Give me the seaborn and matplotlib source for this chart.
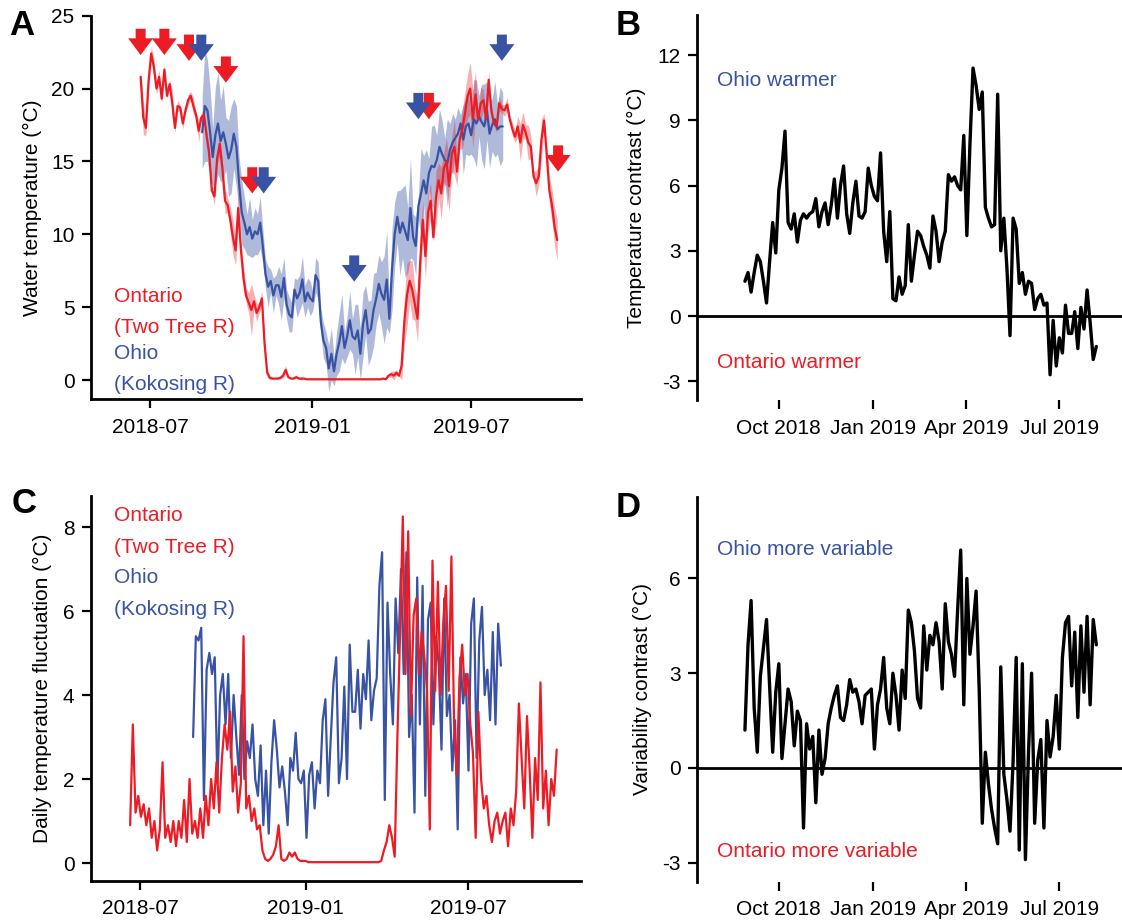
import numpy as np
import pandas as pd
import matplotlib
matplotlib.use("Agg")
import matplotlib.pyplot as plt
import matplotlib.dates as mdates
import seaborn as sns

# ---- data (one value every 3 days) ----
# Ontario (Two Tree R), starts 2018-06-20
ont_start = "2018-06-20"
ont_temp = np.array([
    20.8, 18.0, 17.3, 20.5, 22.4, 21.5, 20.0, 20.8, 19.3, 21.3,
    19.5, 20.3, 19.0, 17.3, 18.8, 18.7, 17.6, 18.5, 19.2, 19.5,
    18.8, 18.2, 17.1, 18.0, 18.2, 16.8, 15.5, 13.0, 12.6, 15.2,
    16.2, 14.5, 12.3, 12.0, 11.0, 9.8, 8.9, 11.8, 9.0, 7.0,
    5.8, 5.3, 4.8, 5.4, 4.6, 5.0, 5.6, 2.5, 0.5, 0.15,
    0.1, 0.1, 0.1, 0.15, 0.3, 0.7, 0.2, 0.1, 0.1, 0.2,
    0.1, 0.1, 0.1, 0.05, 0.05, 0.05, 0.05, 0.05, 0.05, 0.05,
    0.05, 0.05, 0.05, 0.05, 0.05, 0.05, 0.05, 0.05, 0.05, 0.05,
    0.05, 0.05, 0.05, 0.05, 0.05, 0.05, 0.05, 0.05, 0.05, 0.05,
    0.05, 0.05, 0.1, 0.05, 0.3, 0.4, 0.3, 0.5, 0.3, 1.0,
    4.0, 5.8, 6.8, 6.2, 5.2, 4.2, 8.0, 11.0, 8.5, 11.5,
    12.3, 9.8, 12.5, 13.7, 12.8, 14.5, 15.0, 13.3, 15.5, 16.0,
    14.3, 16.5, 17.2, 18.3, 19.5, 20.0, 17.9, 19.6, 17.9, 19.0,
    19.2, 17.9, 20.6, 18.5, 17.6, 17.4, 19.0, 18.6, 18.5, 18.9,
    17.9, 17.2, 16.7, 17.4, 16.3, 17.5, 17.0, 16.3, 16.0, 14.0,
    13.5, 14.0, 16.5, 17.8, 15.5, 13.0, 12.0, 10.5, 9.6])
ont_band = np.array([
    0.4, 1.2, 0.5, 0.6, 0.5, 0.6, 0.4, 0.5, 0.3, 0.4,
    0.2, 0.3, 0.9, 0.3, 0.4, 0.2, 0.4, 0.2, 0.4, 0.3,
    0.6, 0.2, 0.8, 0.3, 0.4, 0.3, 0.5, 0.3, 0.6, 0.4,
    0.8, 0.5, 0.9, 0.5, 0.9, 1.2, 1.0, 1.3, 0.6, 0.9,
    0.5, 0.7, 1.8, 0.5, 0.6, 0.4, 0.5, 0.3, 0.3, 0.1,
    0.05, 0.0, 0.05, 0.1, 0.15, 0.3, 0.05, 0.0, 0.05, 0.1,
    0.05, 0.1, 0.05, 0.0, 0.0, 0.0, 0.0, 0.0, 0.0, 0.0,
    0.0, 0.0, 0.0, 0.0, 0.0, 0.0, 0.0, 0.0, 0.0, 0.0,
    0.0, 0.0, 0.0, 0.0, 0.0, 0.0, 0.0, 0.0, 0.0, 0.0,
    0.0, 0.0, 0.0, 0.0, 0.1, 0.2, 0.3, 0.2, 0.05, 1.0,
    1.6, 2.2, 1.4, 2.0, 1.1, 1.6, 1.7, 1.3, 1.5, 1.4,
    1.2, 0.3, 1.9, 1.2, 1.8, 1.2, 1.6, 1.8, 1.2, 1.9,
    1.0, 0.7, 1.3, 1.5, 1.5, 1.8, 2.0, 1.6, 0.2, 1.1,
    0.7, 0.5, 0.6, 0.4, 0.2, 0.4, 0.5, 0.3, 0.4, 0.5,
    0.2, 0.5, 0.4, 0.7, 1.3, 0.9, 0.5, 1.2, 0.8, 0.3,
    0.9, 0.6, 1.4, 0.5, 0.8, 0.9, 1.1, 1.3, 1.4])
ont_fluct = np.array([
    0.9, 3.3, 1.2, 1.6, 1.1, 1.4, 0.9, 1.3, 0.6, 1.0,
    0.3, 0.8, 2.4, 0.6, 0.9, 0.5, 1.0, 0.4, 1.0, 0.6,
    1.5, 0.5, 2.0, 0.7, 1.0, 0.6, 1.3, 0.6, 1.6, 0.9,
    2.0, 1.3, 2.4, 1.2, 2.5, 3.3, 2.7, 3.6, 1.7, 2.3,
    1.2, 1.9, 5.4, 1.3, 1.6, 1.0, 1.3, 0.8, 0.9, 0.3,
    0.1, 0.05, 0.1, 0.2, 0.4, 0.9, 0.1, 0.05, 0.1, 0.25,
    0.15, 0.25, 0.1, 0.05, 0.05, 0.05, 0.02, 0.02, 0.02, 0.02,
    0.02, 0.02, 0.02, 0.02, 0.02, 0.02, 0.02, 0.02, 0.02, 0.02,
    0.02, 0.02, 0.02, 0.02, 0.02, 0.02, 0.02, 0.02, 0.02, 0.02,
    0.02, 0.02, 0.02, 0.05, 0.3, 0.5, 0.9, 0.6, 0.15, 3.0,
    5.5, 8.25, 4.5, 7.9, 3.5, 5.9, 6.3, 4.5, 5.5, 4.9,
    4.1, 0.8, 7.2, 4.1, 6.7, 4.0, 5.7, 6.6, 4.1, 7.3,
    3.3, 2.1, 4.4, 5.2, 4.0, 4.5, 3.3, 2.6, 0.6, 3.6,
    2.0, 1.3, 1.6, 0.9, 0.5, 1.0, 1.2, 0.7, 1.0, 1.2,
    0.4, 1.3, 0.9, 1.7, 3.8, 2.5, 1.3, 3.5, 2.2, 0.6,
    2.5, 1.5, 4.3, 1.3, 2.2, 0.9, 2.0, 1.6, 2.7])

# Ohio (Kokosing R), starts 2018-08-29
ohio_start = "2018-08-29"
ohio_temp = np.array([
    17.0, 18.8, 18.5, 17.0, 15.3, 16.8, 17.6, 16.4, 17.0, 16.2,
    15.2, 15.8, 16.9, 16.0, 13.5, 11.5, 10.8, 10.0, 10.5, 9.7,
    10.2, 10.0, 10.8, 9.2, 7.3, 6.4, 6.8, 5.8, 6.5, 6.5,
    5.7, 7.0, 5.2, 4.5, 4.3, 6.2, 5.6, 6.0, 6.9, 5.4,
    6.0, 5.6, 5.4, 7.2, 6.8, 4.0, 2.7, 2.2, 0.8, 1.8,
    0.6, 1.8, 2.6, 3.7, 2.2, 3.0, 4.1, 3.0, 2.8, 3.4,
    1.8, 3.8, 4.8, 3.2, 3.5, 4.8, 5.6, 6.6, 5.9, 5.5,
    6.9, 4.2, 7.6, 10.0, 11.2, 10.1, 10.8, 10.2, 9.6, 11.8,
    9.8, 9.2, 11.9, 12.8, 13.7, 12.8, 14.2, 14.7, 14.6, 15.1,
    16.0, 15.5, 15.1, 14.9, 15.8, 16.3, 16.6, 16.9, 17.6, 16.5,
    17.4, 17.6, 16.8, 17.9, 17.6, 18.1, 17.7, 17.4, 18.5, 16.9,
    17.5, 17.9, 17.2, 17.4, 17.4])
ohio_band = np.array([
    2.5, 3.8, 3.5, 3.0, 2.0, 3.3, 3.5, 2.8, 3.2, 1.8,
    2.6, 3.0, 2.4, 2.8, 1.8, 2.2, 1.8, 1.4, 2.0, 1.3,
    1.6, 1.4, 1.8, 1.2, 1.0, 1.4, 0.8, 1.2, 0.7, 1.3,
    1.6, 1.4, 1.0, 1.2, 1.0, 0.8, 1.3, 1.2, 1.6, 1.1,
    1.0, 1.2, 0.6, 1.2, 1.3, 0.9, 1.2, 1.1, 1.6, 1.8,
    1.0, 1.5, 2.0, 2.2, 1.1, 1.4, 2.0, 1.2, 2.4, 1.8,
    1.8, 2.2, 1.7, 2.2, 2.0, 2.5, 1.8, 2.0, 2.2, 3.0,
    3.3, 1.0, 2.8, 2.2, 1.8, 2.9, 2.4, 3.2, 2.2, 3.4,
    1.6, 2.0, 0.8, 3.1, 1.7, 3.0, 1.0, 2.7, 2.9, 1.7,
    2.6, 2.3, 1.5, 3.0, 1.8, 2.0, 1.3, 1.8, 0.6, 2.4,
    1.9, 2.2, 1.3, 2.7, 3.0, 1.4, 2.6, 2.9, 2.0, 2.3,
    1.8, 2.6, 1.7, 2.7, 2.3])
ohio_fluct = np.array([
    3.0, 5.4, 5.3, 5.6, 1.5, 4.6, 5.0, 4.5, 4.9, 1.9,
    4.0, 4.5, 3.3, 4.5, 2.5, 4.0, 3.0, 2.1, 4.0, 2.0,
    2.9, 2.5, 3.3, 2.0, 1.6, 2.8, 0.9, 2.2, 0.7, 2.4,
    3.4, 2.7, 1.8, 2.3, 1.7, 0.9, 2.5, 2.2, 3.1, 2.0,
    1.9, 2.2, 0.6, 2.1, 2.4, 1.3, 2.2, 1.9, 3.4, 3.9,
    1.6, 3.0, 4.3, 4.9, 1.9, 2.5, 4.2, 2.0, 5.2, 3.6,
    3.6, 4.6, 3.2, 4.5, 3.9, 5.3, 3.4, 4.1, 4.4, 6.6,
    7.4, 1.5, 6.2, 4.5, 3.3, 6.3, 5.0, 7.0, 4.5, 7.4,
    3.0, 4.0, 1.2, 6.8, 3.3, 6.6, 1.6, 5.8, 6.2, 3.3,
    5.4, 4.7, 2.7, 6.3, 3.5, 4.0, 2.2, 3.4, 0.8, 4.9,
    3.8, 4.5, 2.2, 5.7, 6.3, 2.5, 5.3, 6.1, 4.0, 4.6,
    3.4, 5.5, 3.3, 5.7, 4.7])

# contrasts (Ohio minus Ontario), same dates as Ohio
temp_contrast = np.array([
    1.6, 2.0, 1.1, 2.0, 2.8, 2.5, 1.6, 0.6, 2.5, 4.3,
    2.9, 5.8, 6.8, 8.5, 4.3, 4.0, 4.7, 3.4, 4.4, 4.7,
    4.5, 4.7, 4.8, 5.4, 4.1, 4.8, 5.2, 4.2, 5.1, 6.3,
    4.5, 6.0, 6.9, 4.7, 3.8, 5.2, 6.2, 4.6, 4.5, 4.8,
    6.8, 6.0, 5.5, 5.3, 7.5, 3.9, 2.5, 4.8, 0.8, 0.7,
    1.8, 1.0, 1.4, 4.2, 1.6, 2.8, 3.9, 3.7, 3.2, 2.8,
    2.2, 4.6, 3.9, 2.5, 3.4, 3.9, 6.5, 6.2, 6.4, 6.0,
    5.8, 8.3, 3.7, 7.9, 11.4, 10.6, 9.5, 10.3, 5.0, 4.5,
    4.1, 4.2, 10.2, 3.0, 4.5, 2.2, -0.9, 4.5, 4.0, 1.5,
    2.0, 1.0, 1.6, 1.5, 0.3, 0.8, 1.0, 0.5, 0.6, -2.7,
    -0.2, -2.3, -1.0, -1.7, 0.5, -0.8, -0.8, 0.2, -1.5, 0.4,
    -0.6, 1.2, -0.3, -2.0, -1.4])
var_contrast = np.array([
    1.2, 3.9, 5.3, 1.9, 0.5, 2.9, 3.8, 4.7, 2.6, 0.5,
    2.4, 3.3, 0.3, 1.4, 2.5, 2.1, 0.7, 1.8, 1.5, -1.9,
    1.4, 0.6, 1.0, -1.1, 1.2, -0.2, 0.3, 1.4, 1.9, 2.3,
    2.6, 1.6, 1.5, 2.0, 2.8, 2.4, 2.5, 2.1, 1.4, 2.3,
    2.4, 2.5, 0.6, 2.0, 2.5, 3.5, 1.9, 1.4, 3.0, 2.3,
    1.2, 3.1, 2.2, 5.0, 4.6, 3.7, 2.2, 1.9, 4.5, 3.1,
    4.2, 3.9, 4.6, 4.0, 2.5, 5.2, 4.0, 3.6, 2.9, 5.0,
    6.9, 2.0, 6.0, 3.6, 4.5, 5.6, 2.5, -1.75, 0.5, -0.5,
    -1.3, -1.9, -2.4, 3.2, -0.2, -1.0, -2.0, 0.2, 3.5, -2.6,
    3.3, -2.9, 0.5, 3.0, -1.75, 0.25, 0.9, -1.9, 1.5, 0.35,
    1.0, 2.3, 0.6, 3.5, 4.6, 4.8, 2.6, 4.3, 1.6, 4.5,
    2.4, 4.8, 2.0, 4.7, 3.9])

# sampling arrows in panel A: date, arrow tip (degC)
red_arrow_dates = ["2018-06-20", "2018-07-17", "2018-08-14", "2018-09-25",
                   "2018-10-25", "2019-05-14", "2019-10-08"]
red_arrow_tips = [22.3, 22.3, 21.9, 20.4, 12.8, 17.9, 14.3]
blue_arrow_dates = ["2018-08-28", "2018-11-07", "2019-02-18", "2019-05-02",
                    "2019-08-05"]
blue_arrow_tips = [21.9, 12.8, 6.75, 17.9, 21.9]

ont_dates = pd.Series(pd.date_range(ont_start, periods=len(ont_temp), freq="3D"))
ohio_dates = pd.Series(pd.date_range(ohio_start, periods=len(ohio_temp), freq="3D"))

RED = "#ED1C24"
BLUE = "#3953A4"

# ---- style ----
sns.set_theme(style="ticks")
plt.rcParams["font.family"] = ["Liberation Sans", "DejaVu Sans"]
plt.rcParams.update({
    "axes.edgecolor": "black", "axes.linewidth": 2.0,
    "xtick.color": "black", "ytick.color": "black",
    "text.color": "black", "axes.labelcolor": "black",
    "xtick.labelsize": 15, "ytick.labelsize": 15, "axes.labelsize": 15,
    "xtick.major.size": 6.5, "ytick.major.size": 6.5,
    "xtick.major.width": 1.6, "ytick.major.width": 1.6,
    "xtick.major.pad": 7, "ytick.major.pad": 5,
    "axes.unicode_minus": False,
})

fig = plt.figure(figsize=(11.22, 9.21), dpi=100)
axA = fig.add_axes([0.0807, 0.5668, 0.4371, 0.4162])
axB = fig.add_axes([0.6209, 0.5657, 0.3791, 0.4180])
axC = fig.add_axes([0.0807, 0.0438, 0.4371, 0.4177])
axD = fig.add_axes([0.6209, 0.0427, 0.3791, 0.4180])

# ---- A: water temperature ----
axA.fill_between(ohio_dates, ohio_temp - ohio_band, ohio_temp + ohio_band,
                 color=BLUE, alpha=0.4, lw=0)
sns.lineplot(x=ohio_dates, y=ohio_temp, ax=axA, color=BLUE, lw=1.6, estimator=None)
axA.fill_between(ont_dates, ont_temp - ont_band, ont_temp + ont_band,
                 color=RED, alpha=0.35, lw=0)
sns.lineplot(x=ont_dates, y=ont_temp, ax=axA, color=RED, lw=1.6, estimator=None)

arrow_style = "simple,head_length=0.6,head_width=0.9,tail_width=0.36"
for dates, tips, col in [(red_arrow_dates, red_arrow_tips, RED),
                         (blue_arrow_dates, blue_arrow_tips, BLUE)]:
    for d, t in zip(dates, tips):
        xd = mdates.date2num(pd.Timestamp(d))
        axA.annotate("", xy=(xd, t), xytext=(xd, t + 1.8),
                     arrowprops=dict(arrowstyle=arrow_style, color=col, lw=0,
                                     shrinkA=0, shrinkB=0, mutation_scale=20),
                     zorder=5)

axA.set_xlim(pd.Timestamp("2018-04-24"), pd.Timestamp("2019-11-03"))
axA.set_ylim(-1.3, 25)
axA.set_yticks([0, 5, 10, 15, 20, 25])
axA.set_xticks(pd.to_datetime(["2018-07-01", "2019-01-01", "2019-07-01"]))
axA.set_xticklabels(["2018-07", "2019-01", "2019-07"])
axA.set_ylabel("Water temperature (°C)")
axA.set_xlabel("")
axA.yaxis.set_label_coords(-0.099, 0.5)

# ---- C: daily fluctuation ----
sns.lineplot(x=ohio_dates, y=ohio_fluct, ax=axC, color=BLUE, lw=1.6, estimator=None)
sns.lineplot(x=ont_dates, y=ont_fluct, ax=axC, color=RED, lw=1.6, estimator=None)
axC.set_xlim(pd.Timestamp("2018-05-07"), pd.Timestamp("2019-11-03"))
axC.set_ylim(-0.42, 8.74)
axC.set_yticks([0, 2, 4, 6, 8])
axC.set_xticks(pd.to_datetime(["2018-07-01", "2019-01-01", "2019-07-01"]))
axC.set_xticklabels(["2018-07", "2019-01", "2019-07"])
axC.set_ylabel("Daily temperature fluctuation (°C)")
axC.set_xlabel("")
axC.yaxis.set_label_coords(-0.079, 0.5)

for ax in (axA, axC):
    sns.despine(ax=ax)

# ---- B and D: contrasts ----
month_ticks = pd.to_datetime(["2018-10-01", "2019-01-01", "2019-04-01", "2019-07-01"])
month_labels = ["Oct 2018", "Jan 2019", "Apr 2019", "Jul 2019"]
for ax, vals, ylim, yt, lab, lx in [
        (axB, temp_contrast, (-3.86, 13.84), [-3, 0, 3, 6, 9, 12],
         "Temperature contrast (°C)", -0.119),
        (axD, var_contrast, (-3.6, 8.59), [-3, 0, 3, 6],
         "Variability contrast (°C)", -0.106)]:
    ax.axhline(0, color="black", lw=2.0, zorder=1)
    sns.lineplot(x=ohio_dates, y=vals, ax=ax, color="black", lw=2.4, estimator=None)
    ax.set_xlim(pd.Timestamp("2018-07-13"), pd.Timestamp("2019-08-31"))
    ax.set_ylim(*ylim)
    ax.set_yticks(yt)
    ax.set_xticks(month_ticks)
    ax.set_xticklabels(month_labels)
    ax.set_ylabel(lab)
    ax.set_xlabel("")
    ax.yaxis.set_label_coords(lx, 0.5)
    sns.despine(ax=ax, bottom=True)

# ---- text ----
tkw = dict(fontsize=15, va="baseline", ha="left")
fig.text(0.1012, 0.6724, "Ontario", color=RED, **tkw)
fig.text(0.1012, 0.6388, "(Two Tree R)", color=RED, **tkw)
fig.text(0.1012, 0.6099, "Ohio", color=BLUE, **tkw)
fig.text(0.1012, 0.5765, "(Kokosing R)", color=BLUE, **tkw)

fig.text(0.1012, 0.4343, "Ontario", color=RED, **tkw)
fig.text(0.1012, 0.3999, "(Two Tree R)", color=RED, **tkw)
fig.text(0.1012, 0.3667, "Ohio", color=BLUE, **tkw)
fig.text(0.1012, 0.3322, "(Kokosing R)", color=BLUE, **tkw)

fig.text(0.6387, 0.9069, "Ohio warmer", color=BLUE, **tkw)
fig.text(0.6387, 0.6001, "Ontario warmer", color=RED, **tkw)
fig.text(0.6387, 0.3974, "Ohio more variable", color=BLUE, **tkw)
fig.text(0.6387, 0.0698, "Ontario more variable", color=RED, **tkw)

lkw = dict(fontsize=25, fontweight="bold", va="baseline", ha="left")
fig.text(0.0083, 0.962, "A", **lkw)
fig.text(0.549, 0.962, "B", **lkw)
fig.text(0.0103, 0.443, "C", **lkw)
fig.text(0.5486, 0.439, "D", **lkw)

fig.savefig("out.png", dpi=100)
